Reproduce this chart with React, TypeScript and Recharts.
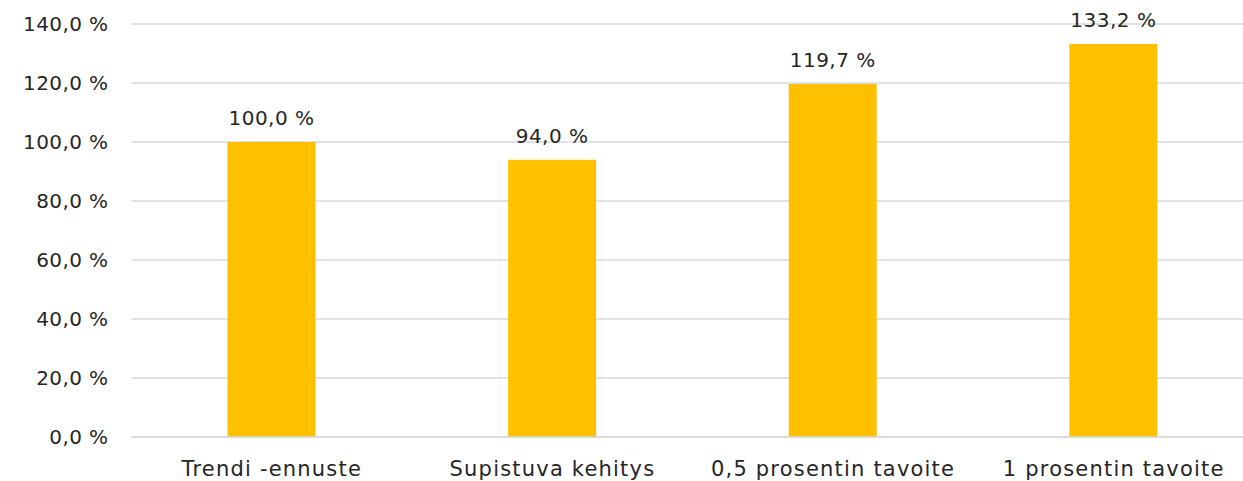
import React from "react";
import { BarChart, Bar, XAxis, YAxis, CartesianGrid, LabelList } from "recharts";

const categories = ["Trendi -ennuste", "Supistuva kehitys", "0,5 prosentin tavoite", "1 prosentin tavoite"];
const values = [100.0, 94.0, 119.7, 133.2];
const yTicks = [0, 20, 40, 60, 80, 100, 120, 140];

const data = categories.map((name, i) => ({ name, value: values[i] }));

const fmt = (v: number) => v.toFixed(1).replace(".", ",") + " %";

const FONT = "'DejaVu Sans', sans-serif";

export default function App() {
  return (
    <div style={{ position: "absolute", left: 0, top: 0, width: 1243, height: 481, overflow: "hidden", background: "#fff" }}>
      <BarChart
        width={1260}
        height={481}
        data={data}
        margin={{ top: 24, right: 6, bottom: 0, left: 0 }}
        barSize={88}
      >
        <CartesianGrid vertical={false} stroke="#d9d9d9" strokeWidth={1.5} />
        <XAxis
          dataKey="name"
          height={44}
          axisLine={{ stroke: "#d9d9d9", strokeWidth: 1.5 }}
          tickLine={false}
          tickSize={0}
          tickMargin={24}
          interval={0}
          tick={{ fill: "#262626", fontSize: 21, fontFamily: FONT, letterSpacing: 1.2 }}
        />
        <YAxis
          width={131.5}
          domain={[0, 140]}
          ticks={yTicks}
          tickFormatter={fmt}
          axisLine={false}
          tickLine={false}
          tickSize={0}
          tickMargin={23}
          tick={{ fill: "#262626", fontSize: 20, fontFamily: FONT, letterSpacing: 0.4 }}
        />
        <Bar dataKey="value" fill="#FFC000" isAnimationActive={false}>
          <LabelList
            dataKey="value"
            position="top"
            offset={17}
            formatter={(v: any) => fmt(Number(v))}
            style={{ fill: "#262626", fontSize: 20, fontFamily: FONT, letterSpacing: 0.5 }}
          />
        </Bar>
      </BarChart>
    </div>
  );
}
